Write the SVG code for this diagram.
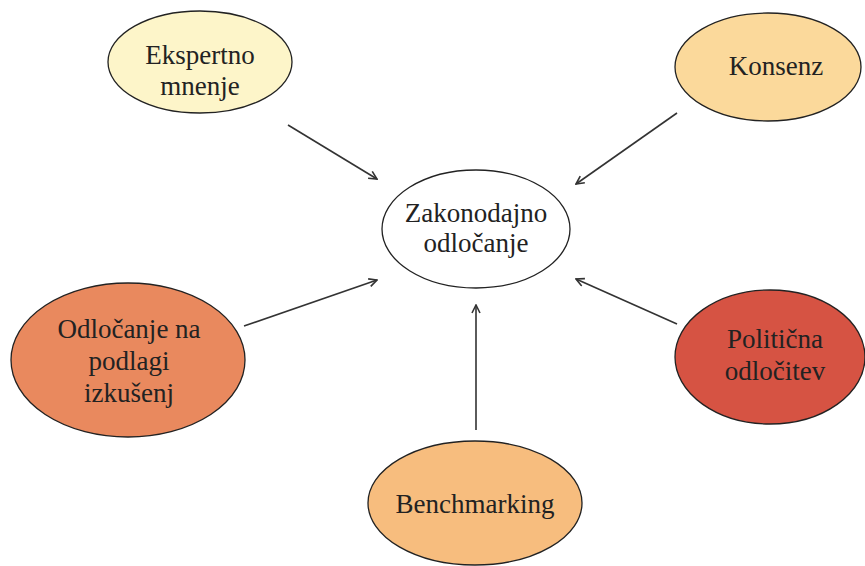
<svg xmlns="http://www.w3.org/2000/svg" width="865" height="566" viewBox="0 0 865 566">
<defs>
<style>
.n{stroke:#222;stroke-width:1.3}
.t{font-family:"Liberation Serif","Times New Roman",serif;font-size:27px;fill:#222;text-anchor:middle}
.c{stroke:#333;stroke-width:1.6;fill:none;marker-end:url(#ah)}
</style>
<marker id="ah" viewBox="0 0 10 10" refX="9" refY="5" markerWidth="10" markerHeight="10" markerUnits="userSpaceOnUse" orient="auto">
<path d="M1,1 L9,5 L1,9" fill="none" stroke="#333" stroke-width="1.6"/>
</marker>
</defs>
<rect width="865" height="566" fill="#fff"/>
<g id="connectors">
<line class="c" x1="288" y1="125" x2="377" y2="179"/>
<line class="c" x1="677" y1="113" x2="576" y2="184"/>
<line class="c" x1="244" y1="326" x2="377" y2="280"/>
<line class="c" x1="677" y1="324" x2="576" y2="279"/>
<line class="c" x1="476" y1="430" x2="476" y2="305"/>
</g>
<g id="ekspertno">
<ellipse class="n" cx="200" cy="62" rx="92" ry="51" fill="#FDF5C9"/>
<text class="t" x="200" y="64">Ekspertno</text>
<text class="t" x="200" y="95">mnenje</text>
</g>
<g id="konsenz">
<ellipse class="n" cx="768" cy="67" rx="93" ry="54" fill="#FBD99B"/>
<text class="t" x="776" y="75">Konsenz</text>
</g>
<g id="zakonodajno">
<ellipse class="n" cx="476" cy="229" rx="94" ry="59" fill="#fff"/>
<text class="t" x="476" y="222">Zakonodajno</text>
<text class="t" x="476" y="252">odločanje</text>
</g>
<g id="izkusnje">
<ellipse class="n" cx="128" cy="360" rx="117" ry="77" fill="#E9895E"/>
<text class="t" x="129" y="338">Odločanje na</text>
<text class="t" x="129" y="370">podlagi</text>
<text class="t" x="129" y="402">izkušenj</text>
</g>
<g id="politicna">
<ellipse class="n" cx="770" cy="357" rx="95" ry="67" fill="#D65343"/>
<text class="t" x="775" y="348">Politična</text>
<text class="t" x="775" y="380">odločitev</text>
</g>
<g id="benchmarking">
<ellipse class="n" cx="475" cy="503" rx="107" ry="62" fill="#F7BD7E"/>
<text class="t" x="475" y="513">Benchmarking</text>
</g>
</svg>
